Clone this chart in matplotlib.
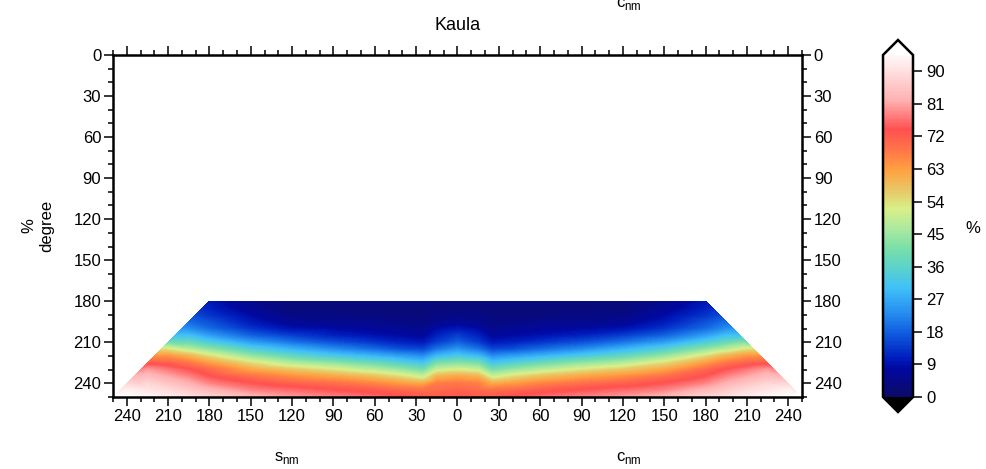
import numpy as np
import matplotlib
matplotlib.use("Agg")
import matplotlib.pyplot as plt
from matplotlib.colors import LinearSegmentedColormap, Normalize
from matplotlib.ticker import MultipleLocator, FuncFormatter
import matplotlib.tri as mtri
import matplotlib.cm as cm

plt.rcParams['font.family'] = ['Liberation Sans', 'DejaVu Sans']

# ---------------- data (percent) ----------------
degrees = [180, 185, 190, 195, 200, 205, 210, 215, 220, 225, 230, 235, 240, 245, 250]
orders = [0, 15, 25, 40, 60, 90, 120, 150, 180, 195, 210, 225, 240]
nan = np.nan
# rows = degrees, columns = orders (NaN where order >= degree)
pct = [
    [3, 3, 3, 3, 3, 3, 3, 5, nan, nan, nan, nan, nan],            # 180
    [3, 3, 3, 3, 3, 3, 3, 6, 11, nan, nan, nan, nan],             # 185
    [4, 4, 3, 3, 3, 4, 4, 8, 13, nan, nan, nan, nan],             # 190
    [6, 5, 4, 4, 5, 5, 6, 10, 16, nan, nan, nan, nan],            # 195
    [10, 8, 5, 6, 7, 8, 9, 13, 19, 23, nan, nan, nan],            # 200
    [14, 11, 7, 8, 9, 11, 14, 18, 25, 30, nan, nan, nan],         # 205
    [18, 14, 10, 11, 13, 16, 20, 25, 33, 38, nan, nan, nan],      # 210
    [24, 20, 15, 16, 19, 23, 28, 34, 43, 48, 53, nan, nan],       # 215
    [32, 29, 23, 25, 28, 32, 37, 44, 54, 60, 64, nan, nan],       # 220
    [42, 40, 31, 34, 38, 43, 47, 54, 63, 68, 71, nan, nan],       # 225
    [52, 50, 40, 44, 48, 53, 57, 62, 70, 74, 77, 80, nan],        # 230
    [62, 60, 50, 54, 58, 62, 65, 69, 74, 78, 81, 84, nan],        # 235
    [68, 67, 61, 63, 66, 69, 71, 74, 78, 82, 85, 88, nan],        # 240
    [71, 70, 69, 70, 72, 74, 76, 78, 83, 86, 89, 91, 93],         # 245
    [73, 72, 72, 74, 76, 78, 80, 83, 88, 90, 92, 94, 95],         # 250
]
# value on the triangle edge (order == degree)
edge_pct = [10, 12, 15, 19, 24, 30, 39, 54, 64, 72, 78, 83, 88, 92, 96]

# colour scale
cbar_ticks = [0, 9, 18, 27, 36, 45, 54, 63, 72, 81, 90]
vmin, vmax = 0, 94.5
cmap_stops = [
    (0.0, "#0c0868"), (1.4, "#0a0a70"), (7.7, "#0008a0"), (11, "#0020c0"),
    (18, "#1060e0"), (23.5, "#2890f0"), (30, "#40c0f8"), (35, "#58d0d0"),
    (41, "#78e0a8"), (46, "#a8e8a0"), (52, "#d8f088"), (57, "#e8c868"),
    (63, "#ffa040"), (68, "#ff7848"), (74, "#ff5050"), (82, "#ffb0b0"),
    (94.5, "#fff8f8"),
]

# ---------------- build points ----------------
xs, ys, zs = [], [], []
for i, n in enumerate(degrees):
    for j, m in enumerate(orders):
        v = pct[i][j]
        if np.isnan(v) or m >= n:
            continue
        for sgn in ([1] if m == 0 else [-1, 1]):
            xs.append(sgn * m); ys.append(n); zs.append(v)
    for sgn in (-1, 1):
        xs.append(sgn * n); ys.append(n); zs.append(edge_pct[i])
xs = np.array(xs, float); ys = np.array(ys, float); zs = np.array(zs, float)

cmap = LinearSegmentedColormap.from_list(
    "kaula", [(p / vmax, c) for p, c in cmap_stops])
cmap.set_over("white")
cmap.set_under("black")
norm = Normalize(vmin=vmin, vmax=vmax)

W, H = 987, 469
FS = 12
fig = plt.figure(figsize=(W / 100, H / 100), dpi=100)
ax = fig.add_axes([113 / W, 1 - 397 / H, (802 - 113) / W, (397 - 55) / H])

tri = mtri.Triangulation(xs, ys)
levels = np.linspace(vmin, vmax, 190)
ax.tricontourf(tri, zs, levels=levels, cmap=cmap, norm=norm, extend="both",
               antialiased=False)

ax.set_xlim(-250, 250)
ax.set_ylim(250, 0)
ax.xaxis.set_major_locator(MultipleLocator(30))
ax.xaxis.set_minor_locator(MultipleLocator(10))
ax.yaxis.set_major_locator(MultipleLocator(30))
ax.yaxis.set_minor_locator(MultipleLocator(10))
ax.xaxis.set_major_formatter(FuncFormatter(lambda v, p: f"{abs(v):.0f}"))
ax.tick_params(which="both", direction="out", top=True, right=True,
               labelright=True, labeltop=False, width=1.1, labelsize=FS,
               colors="black")
ax.tick_params(which="major", length=6.5, pad=2)
ax.tick_params(which="minor", length=3.5)
for s in ax.spines.values():
    s.set_linewidth(1.8)

ax.set_ylabel("%\ndegree", fontsize=FS, labelpad=14, linespacing=1.25)
ax.set_title("Kaula", fontsize=13, pad=18)

lab_m = 124
for xm, t, ytop in ((-lab_m, "s$_\\mathregular{nm}$", -6),
                    (lab_m, "c$_\\mathregular{nm}$", 4)):
    xp = (458 + xm * 1.379) / W
    fig.text(xp, 1 - 458 / H, t, fontsize=FS, ha="center", va="center")
    fig.text(xp, 1 - ytop / H, t, fontsize=FS, ha="center", va="center")

# colorbar
ext = 15
cax = fig.add_axes([883 / W, 1 - (397 + ext) / H, 30 / W, (342 + 2 * ext) / H])
sm = cm.ScalarMappable(norm=norm, cmap=cmap)
cb = fig.colorbar(sm, cax=cax, extend="both", extendfrac=ext / 342,
                  ticks=cbar_ticks)
cb.outline.set_linewidth(1.8)
cb.ax.tick_params(direction="out", length=6.5, width=1.1, labelsize=FS, pad=3)
fig.text(973 / W, 1 - 228 / H, "%", fontsize=FS, ha="center", va="center")

fig.savefig("out.png", dpi=100)
